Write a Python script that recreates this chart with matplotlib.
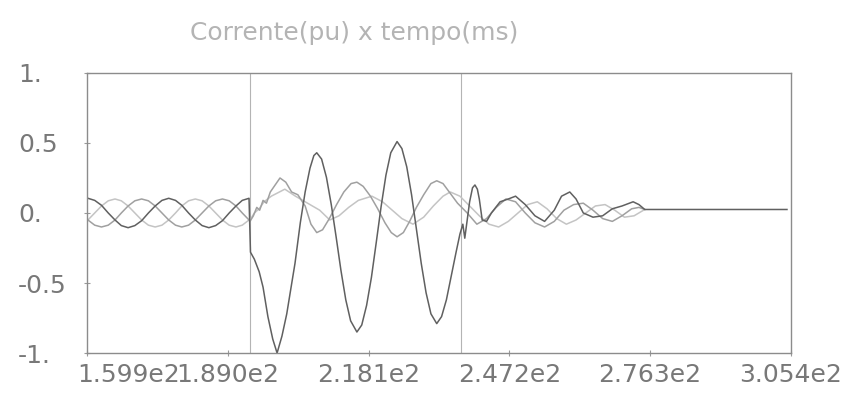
import matplotlib
matplotlib.use("Agg")
import matplotlib.pyplot as plt
import matplotlib.transforms as mtransforms

# time (ms) and current (pu) samples for the three phases
t_pre = [160.1, 161.5, 162.9, 164.3, 165.7, 167.0, 168.4, 169.8, 171.2, 172.6,
         174.0, 175.4, 176.8, 178.2, 179.5, 180.9, 182.3, 183.7, 185.1, 186.5,
         187.9, 189.3, 190.7, 192.0, 193.4]
ia_pre = [0.105, 0.09, 0.055, 0.0, -0.05, -0.09, -0.105, -0.09, -0.055, 0.0,
          0.05, 0.09, 0.105, 0.09, 0.055, 0.0, -0.05, -0.09, -0.105, -0.09,
          -0.055, 0.0, 0.05, 0.09, 0.105]
ib_pre = [-0.05, -0.087, -0.1, -0.087, -0.05, 0.0, 0.05, 0.087, 0.1, 0.087,
          0.05, 0.0, -0.05, -0.087, -0.1, -0.087, -0.05, 0.0, 0.05, 0.087,
          0.1, 0.087, 0.05, 0.0, -0.05]
ic_pre = [-0.05, 0.0, 0.05, 0.087, 0.1, 0.087, 0.05, 0.0, -0.05, -0.087,
          -0.1, -0.087, -0.05, 0.0, 0.05, 0.087, 0.1, 0.087, 0.05, 0.0,
          -0.05, -0.087, -0.1, -0.087, -0.05]

t_a = [193.7, 194.5, 195.5, 196.3, 197.3, 198.3, 199.2, 200.2, 201.2, 202.0,
       202.9, 204.0, 205.0, 206.0, 206.8, 207.4, 208.4, 209.4, 210.4, 211.4,
       212.4, 213.4, 214.4, 215.7, 216.7, 217.7, 218.7, 219.7, 220.7, 221.7,
       222.7, 224.0, 225.0, 226.0, 227.0, 228.0, 229.0, 230.0, 231.0, 232.2,
       233.2, 234.2, 235.2, 236.2, 237.0, 237.6, 238.0, 238.5, 239.0, 239.6,
       240.1, 240.6, 241.0, 241.6, 242.5, 243.5, 245.3, 247.0, 248.5, 250.5,
       252.5, 254.5, 256.5, 258.0, 259.7, 261.0, 262.5, 264.5, 266.5, 268.5,
       270.5, 272.8, 274.0, 275.2, 304.6]
ia = [-0.28, -0.33, -0.42, -0.53, -0.74, -0.9, -1.0, -0.88, -0.72, -0.55,
      -0.36, -0.07, 0.15, 0.32, 0.41, 0.43, 0.385, 0.255, 0.06, -0.17,
      -0.41, -0.62, -0.77, -0.85, -0.8, -0.66, -0.46, -0.21, 0.045, 0.27,
      0.43, 0.51, 0.46, 0.33, 0.13, -0.115, -0.36, -0.57, -0.72, -0.79,
      -0.74, -0.62, -0.45, -0.28, -0.15, -0.08, -0.18, -0.05, 0.08, 0.18,
      0.2, 0.17, 0.1, -0.05, -0.06, 0.0, 0.08, 0.1, 0.12, 0.06,
      -0.02, -0.06, 0.02, 0.12, 0.15, 0.1, 0.0, -0.03, -0.02, 0.03,
      0.05, 0.08, 0.06, 0.025, 0.025]

t_b = [193.6, 194.3, 195.0, 195.6, 196.3, 197.0, 197.8, 198.6, 199.8, 201.0,
       202.2, 203.5, 205.0, 206.2, 207.4, 208.6, 210.0, 211.5, 213.0, 214.5,
       215.7, 217.0, 218.5, 220.0, 221.5, 222.8, 224.0, 225.3, 226.6, 228.0,
       229.5, 231.0, 232.2, 233.5, 235.0, 236.5, 238.5, 240.5, 242.5, 244.5,
       246.5, 248.5, 250.5, 252.5, 254.5, 256.5, 258.5, 260.5, 262.5, 264.5,
       266.5, 268.5, 270.5, 272.5, 274.0, 275.2]
ib = [-0.06, -0.02, 0.04, 0.02, 0.09, 0.07, 0.15, 0.19, 0.25, 0.22,
      0.15, 0.13, 0.05, -0.08, -0.14, -0.12, -0.04, 0.06, 0.15, 0.21,
      0.22, 0.19, 0.12, 0.03, -0.07, -0.14, -0.17, -0.14, -0.06, 0.04,
      0.13, 0.21, 0.23, 0.21, 0.14, 0.07, 0.0, -0.08, -0.04, 0.04,
      0.1, 0.08, 0.0, -0.07, -0.1, -0.06, 0.02, 0.06, 0.07, 0.02,
      -0.04, -0.06, -0.02, 0.03, 0.04, 0.025]

t_c = [193.6, 194.5, 195.5, 196.5, 198.0, 200.8, 203.0, 205.5, 208.0, 210.1,
       212.0, 214.0, 216.0, 218.8, 221.0, 223.0, 225.0, 227.3, 229.5, 231.5,
       233.5, 235.0, 237.0, 239.0, 241.0, 243.0, 245.0, 247.0, 249.0, 251.0,
       253.0, 255.0, 257.0, 259.0, 261.0, 263.0, 265.0, 267.0, 269.0, 271.0,
       273.0, 275.2]
ic = [-0.05, 0.0, 0.03, 0.08, 0.12, 0.17, 0.12, 0.07, 0.02, -0.05,
      -0.02, 0.04, 0.09, 0.12, 0.08, 0.02, -0.04, -0.08, -0.03, 0.05,
      0.12, 0.15, 0.12, 0.05, -0.02, -0.08, -0.1, -0.06, 0.0, 0.06,
      0.08, 0.03, -0.04, -0.08, -0.05, 0.0, 0.05, 0.06, 0.02, -0.03,
      -0.02, 0.025]

fault_start = 193.6
fault_end = 237.2

x_ticks = [159.9, 189.0, 218.1, 247.2, 276.3, 305.4]
x_labels = ["1.599e2", "1.890e2", "2.181e2", "2.472e2", "2.763e2", "3.054e2"]
y_ticks = [-1.0, -0.5, 0.0, 0.5, 1.0]
y_labels = ["-1.", "-0.5", "0.", "0.5", "1."]

plt.rcParams["font.family"] = ["DejaVu Sans"]

fig = plt.figure(figsize=(8.46, 4.03), dpi=100)
ax = fig.add_axes([0.1028, 0.124, 0.832, 0.695])

ax.axvline(fault_start, color="#b4b4b4", lw=0.8)
ax.axvline(fault_end, color="#b4b4b4", lw=0.8)

ax.plot(t_pre + t_c, ic_pre + ic, color="#c4c4c4", lw=1.1)
ax.plot(t_pre + t_b, ib_pre + ib, color="#a0a0a0", lw=1.1)
ax.plot(t_pre + t_a, ia_pre + ia, color="#606060", lw=1.1)

ax.set_xlim(159.9, 305.4)
ax.set_ylim(-1.0, 1.0)

ax.set_xticks(x_ticks)
ax.set_xticklabels(x_labels)
ax.set_yticks(y_ticks)
ax.set_yticklabels(y_labels)
ax.tick_params(axis="both", direction="inout", length=5, width=0.8,
               colors="#9a9a9a", labelcolor="#787878", labelsize=18)
ax.tick_params(axis="x", pad=5)
ax.tick_params(axis="y", pad=47)
for lab in ax.get_yticklabels():
    lab.set_horizontalalignment("left")

# first x label sits to the right of its tick, running into the next one
first = ax.get_xticklabels()[0]
first.set_horizontalalignment("left")
first.set_transform(first.get_transform() +
                    mtransforms.ScaledTranslation(-10 / 100, 0, fig.dpi_scale_trans))

for sp in ax.spines.values():
    sp.set_color("#8c8c8c")
    sp.set_linewidth(1.0)

fig.text(190 / 846, 1 - 33 / 403, "Corrente(pu) x tempo(ms)", ha="left", va="center",
         fontsize=18, color="#b4b4b4")

fig.savefig("out.png", dpi=100)
